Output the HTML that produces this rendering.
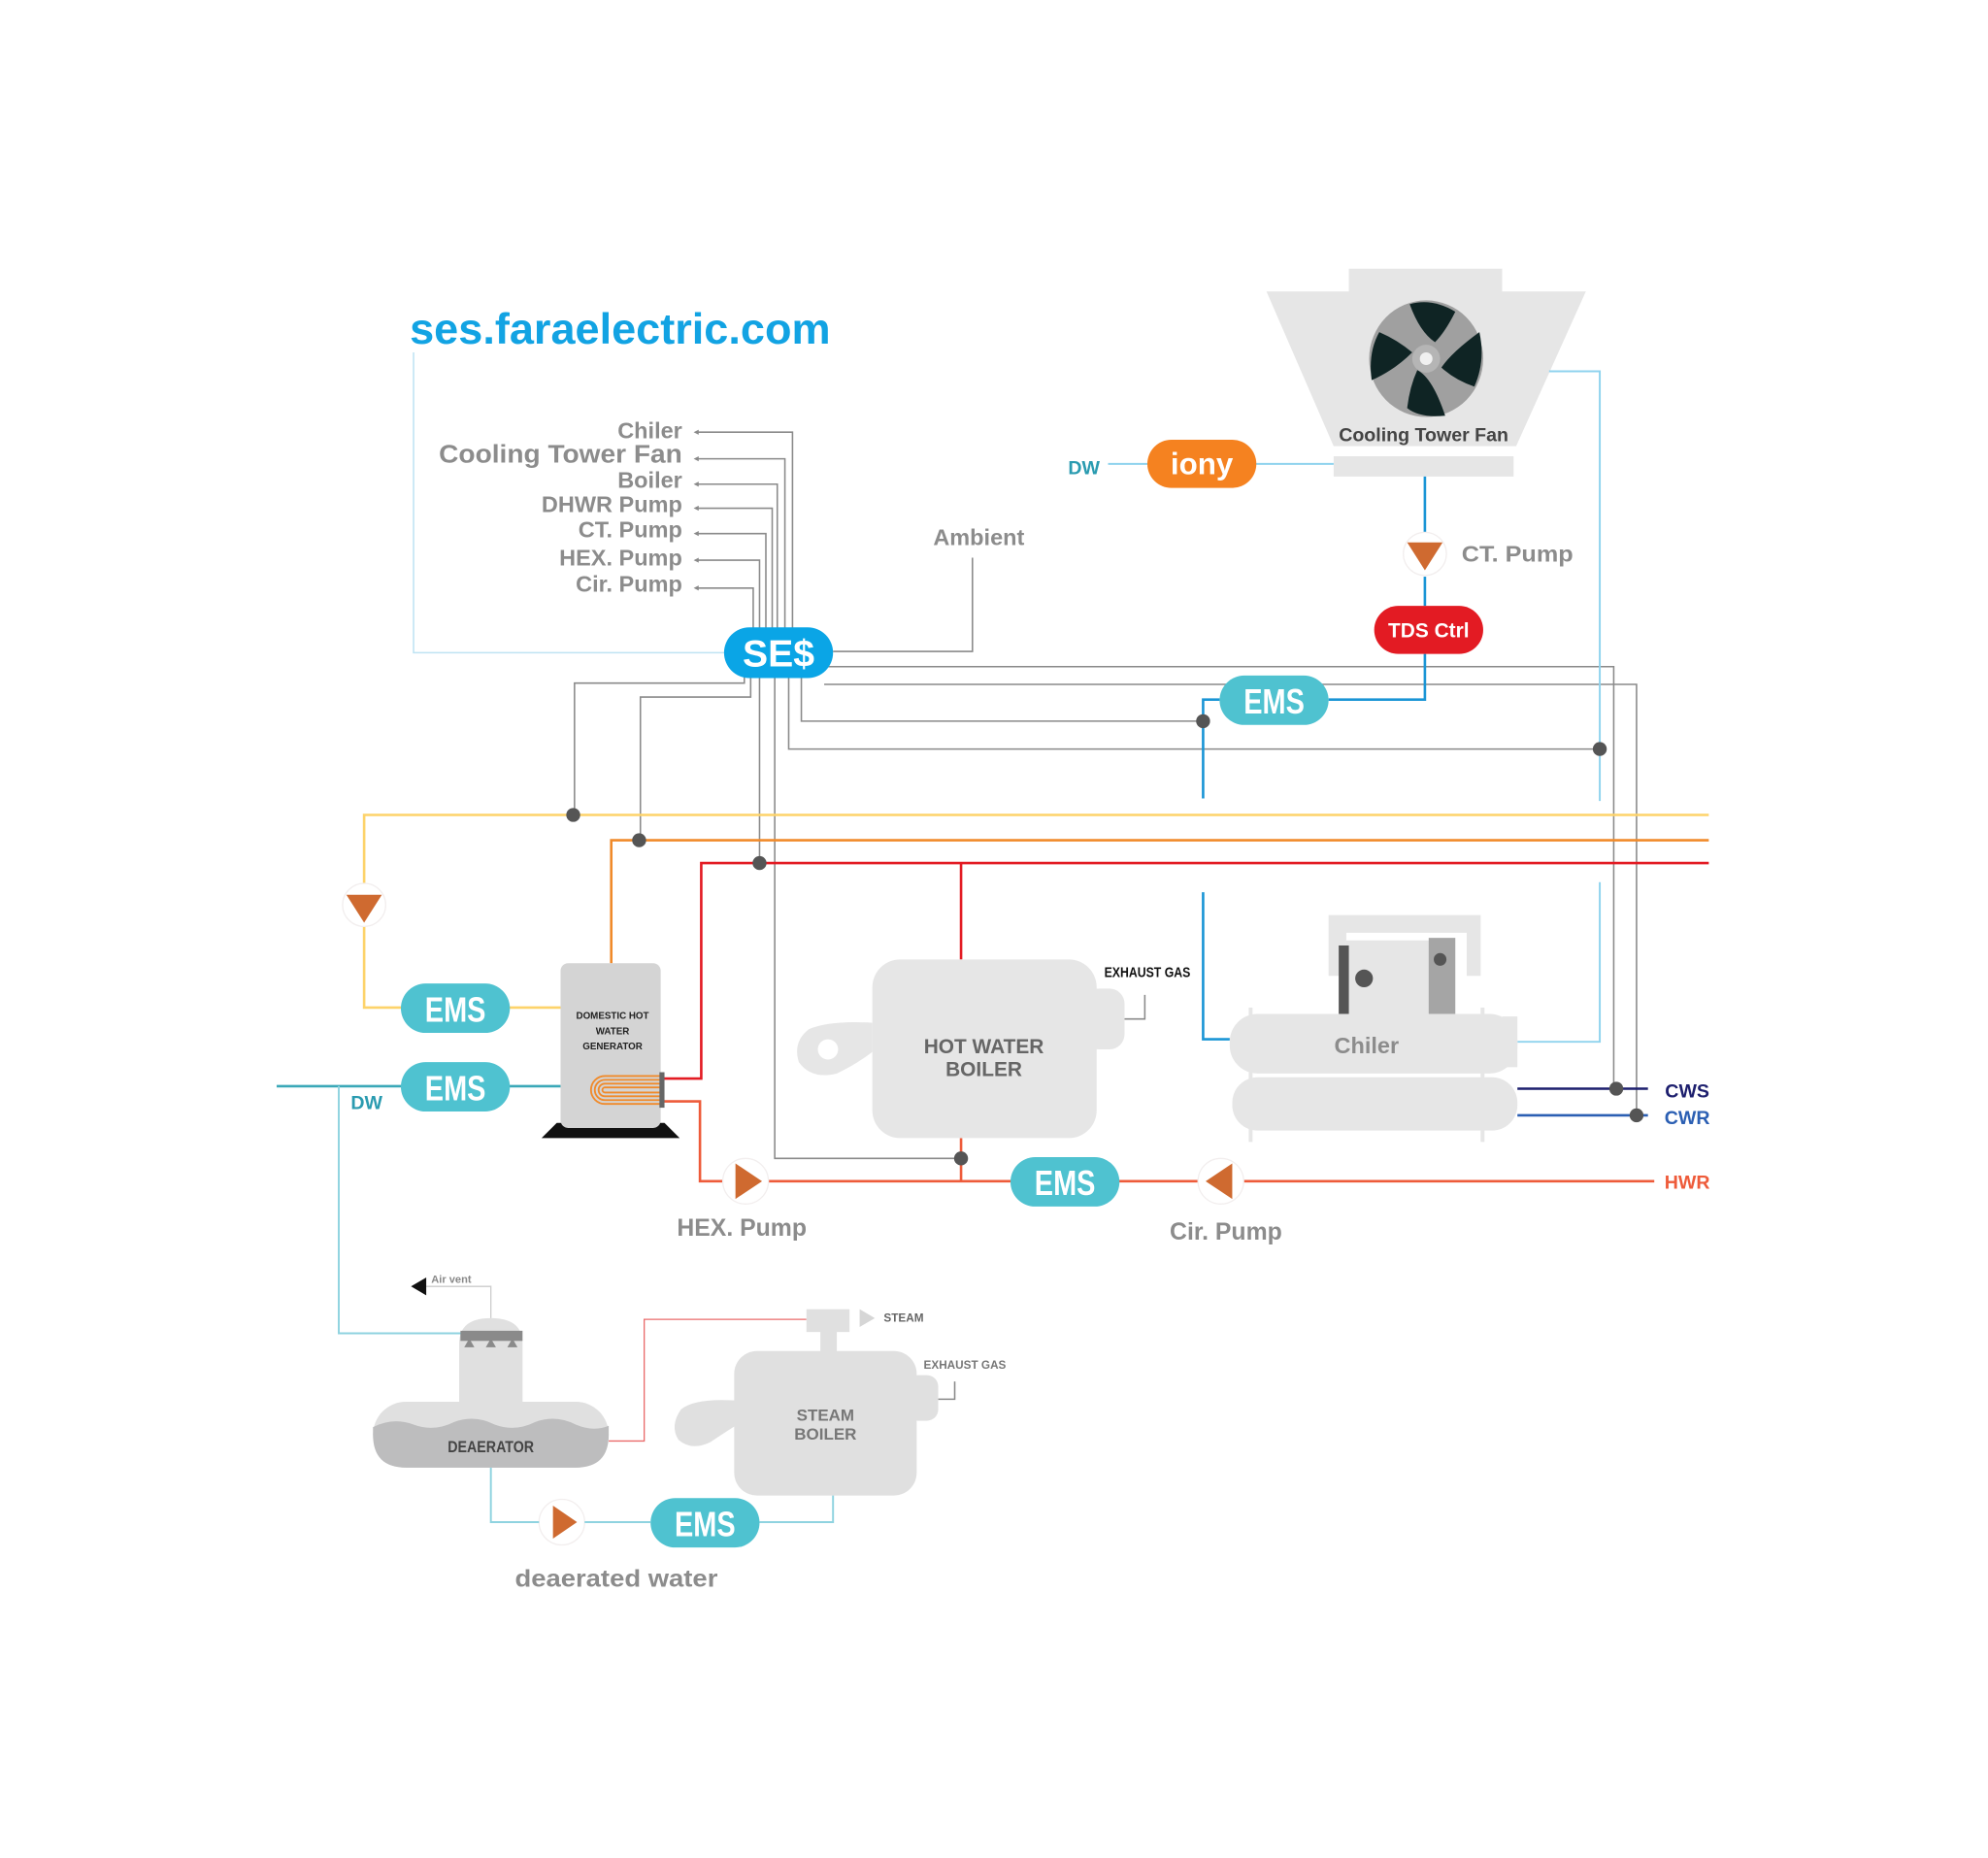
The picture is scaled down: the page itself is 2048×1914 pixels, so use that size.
<!DOCTYPE html>
<html><head><meta charset="utf-8"><style>
html,body{margin:0;padding:0;background:#fff}
svg{display:block}
text{font-family:"Liberation Sans",Arial,sans-serif;font-weight:bold}
</style></head><body>
<svg width="2048" height="1914" viewBox="0 0 1568 1466" xmlns="http://www.w3.org/2000/svg">
<rect width="1568" height="1466" fill="#fff"/>
<!-- title -->
<text x="323" y="271" font-size="34" fill="#12a3e3" textLength="332" lengthAdjust="spacingAndGlyphs">ses.faraelectric.com</text>
<polyline points="326,278 326,515 575,515" fill="none" stroke="#bfe3f3" stroke-width="1.2"/>
<!-- labels -->
<g font-size="18" fill="#8c8c8c" text-anchor="end">
<text x="538" y="346">Chiler</text>
<text x="538" y="365" font-size="20" textLength="192" lengthAdjust="spacingAndGlyphs">Cooling Tower Fan</text>
<text x="538" y="385">Boiler</text>
<text x="538" y="404">DHWR Pump</text>
<text x="538" y="424">CT. Pump</text>
<text x="538" y="446">HEX. Pump</text>
<text x="538" y="467">Cir. Pump</text>
</g>
<g fill="none" stroke="#8a8a8a" stroke-width="1.2">
<polyline points="550,341 625,341 625,500"/>
<polyline points="550,362 619,362 619,500"/>
<polyline points="550,382 613,382 613,500"/>
<polyline points="550,401 609,401 609,500"/>
<polyline points="550,421 604,421 604,500"/>
<polyline points="550,442 599,442 599,500"/>
<polyline points="550,464 594,464 594,500"/>
<polyline points="767,440 767,514 657,514"/>
<polyline points="650,526 1273,526 1273,859"/>
<polyline points="650,540 1291,540 1291,880"/>
<polyline points="632,530 632,569 949,569"/>
<polyline points="622,530 622,591 1262,591"/>
<polyline points="587,530 587,539 453,539 453,643"/>
<polyline points="592,530 592,550 505,550 505,663"/>
<polyline points="599,530 599,681"/>
<polyline points="611,530 611,914 758,914"/>
<polyline points="887,804 903,804 903,785"/>
<polyline points="740,1104 753,1104 753,1090"/>
</g>
<g fill="#8a8a8a">
<path d="M547,341 l4,-2 v4z"/><path d="M547,362 l4,-2 v4z"/><path d="M547,382 l4,-2 v4z"/><path d="M547,401 l4,-2 v4z"/><path d="M547,421 l4,-2 v4z"/><path d="M547,442 l4,-2 v4z"/><path d="M547,464 l4,-2 v4z"/>
</g>
<text x="772" y="430" font-size="18" fill="#8c8c8c" text-anchor="middle">Ambient</text>
<!-- cooling tower -->
<rect x="1064" y="212" width="121" height="20" fill="#e6e6e6"/>
<polygon points="999,230 1251,230 1196,352 1052,352" fill="#e6e6e6"/>
<rect x="1052" y="360" width="142" height="16" fill="#e6e6e6"/>
<ellipse cx="1125" cy="283" rx="45" ry="46" fill="#a0a0a0"/>
<g fill="#0f2424">
<path d="M1112,240 Q1130,235 1148,246 Q1140,262 1132,270 Q1120,262 1112,240z"/>
<path d="M1167,262 Q1172,285 1163,305 Q1148,300 1137,290 Q1145,278 1167,262z"/>
<path d="M1140,328 Q1120,330 1110,322 Q1112,305 1118,292 Q1130,298 1140,328z"/>
<path d="M1082,300 Q1079,278 1088,262 Q1102,268 1114,278 Q1100,292 1082,300z"/>
</g>
<circle cx="1125" cy="283" r="11" fill="#b5b5b5"/><circle cx="1125" cy="283" r="5" fill="#f0f0f0"/>
<text x="1123" y="348" font-size="15" fill="#444" text-anchor="middle">Cooling Tower Fan</text>
<polyline points="1222,293 1262,293 1262,632" fill="none" stroke="#8fd3ee" stroke-width="1.5"/>
<polyline points="1262,696 1262,822 1197,822" fill="none" stroke="#8fd3ee" stroke-width="1.5"/>
<line x1="874" y1="366" x2="905" y2="366" stroke="#8fd3ee" stroke-width="1.5"/>
<line x1="990" y1="366" x2="1052" y2="366" stroke="#8fd3ee" stroke-width="1.5"/>
<text x="855" y="374" font-size="15" fill="#2a9bb0" text-anchor="middle">DW</text>
<rect x="905" y="347" width="86" height="38" rx="19" fill="#f58220"/>
<text x="948" y="374" font-size="24" fill="#fff" text-anchor="middle" font-family="Liberation Sans">iony</text>
<!-- CT pump chain -->
<g fill="none" stroke="#1a95d5" stroke-width="2">
<line x1="1124" y1="376" x2="1124" y2="420"/>
<line x1="1124" y1="455" x2="1124" y2="478"/>
<polyline points="1124,516 1124,552 1048,552"/>
<polyline points="962,552 949,552 949,630"/>
<polyline points="949,704 949,820 970,820"/>
</g>
<circle cx="1124" cy="437" r="17" fill="#fff" stroke="#f2eeee"/>
<polygon points="1110,428 1138,428 1124,450" fill="#cf6a30"/>
<text x="1153" y="443" font-size="18" fill="#8c8c8c" textLength="88" lengthAdjust="spacingAndGlyphs">CT. Pump</text>
<rect x="1084" y="478" width="86" height="38" rx="19" fill="#e31b23"/>
<text x="1127" y="503" font-size="16" fill="#fff" text-anchor="middle">TDS Ctrl</text>
<!-- pipes -->
<polyline points="1348,643 287,643 287,697" fill="none" stroke="#fdd36a" stroke-width="2"/>
<polyline points="287,731 287,795 442,795" fill="none" stroke="#fdd36a" stroke-width="2"/>
<polyline points="1348,663 482,663 482,760" fill="none" stroke="#f08a2a" stroke-width="2"/>
<polyline points="1348,681 553,681 553,851 523,851" fill="none" stroke="#e31b23" stroke-width="2"/>
<line x1="758" y1="681" x2="758" y2="757" stroke="#e31b23" stroke-width="2"/>
<polyline points="523,869 552,869 552,932 1305,932" fill="none" stroke="#ee5b3a" stroke-width="2"/>
<line x1="758" y1="898" x2="758" y2="932" stroke="#ee5b3a" stroke-width="2"/>
<line x1="218" y1="857" x2="442" y2="857" stroke="#3aa8b8" stroke-width="2"/>
<polyline points="267,857 267,1052 380,1052" fill="none" stroke="#8fd3e0" stroke-width="1.5"/>
<!-- dots -->
<g fill="#555">
<circle cx="452" cy="643" r="5.5"/><circle cx="504" cy="663" r="5.5"/><circle cx="599" cy="681" r="5.5"/>
<circle cx="949" cy="569" r="5.5"/><circle cx="1262" cy="591" r="5.5"/><circle cx="758" cy="914" r="5.5"/>
</g>
<!-- SES -->
<rect x="571" y="495" width="86" height="40" rx="20" fill="#0aa5e6"/>
<text x="614" y="526" font-size="30" fill="#fff" text-anchor="middle">SE$</text>
<!-- EMS pills -->
<g font-size="28" fill="#fff" text-anchor="middle">
<rect x="962" y="533" width="86" height="39" rx="19.5" fill="#4fc2d0"/><text x="1005" y="563" textLength="48" lengthAdjust="spacingAndGlyphs">EMS</text>
<rect x="316" y="776" width="86" height="39" rx="19.5" fill="#4fc2d0"/><text x="359" y="806" textLength="48" lengthAdjust="spacingAndGlyphs">EMS</text>
<rect x="316" y="838" width="86" height="39" rx="19.5" fill="#4fc2d0"/><text x="359" y="868" textLength="48" lengthAdjust="spacingAndGlyphs">EMS</text>
<rect x="797" y="913" width="86" height="39" rx="19.5" fill="#4fc2d0"/><text x="840" y="943" textLength="48" lengthAdjust="spacingAndGlyphs">EMS</text>
<rect x="513" y="1182" width="86" height="39" rx="19.5" fill="#4fc2d0"/><text x="556" y="1212" textLength="48" lengthAdjust="spacingAndGlyphs">EMS</text>
</g>
<text x="289" y="875" font-size="15" fill="#2a9bb0" text-anchor="middle">DW</text>
<!-- pumps -->
<circle cx="287" cy="714" r="17" fill="#fff" stroke="#f2eeee"/><polygon points="273,706 301,706 287,728" fill="#cf6a30"/>
<circle cx="588" cy="932" r="18" fill="#fff" stroke="#f2eeee"/><polygon points="580,918 601,932 580,946" fill="#cf6a30"/>
<circle cx="963" cy="932" r="18" fill="#fff" stroke="#f2eeee"/><polygon points="972,918 951,932 972,946" fill="#cf6a30"/>
<circle cx="443" cy="1201" r="18" fill="#fff" stroke="#f2eeee"/><polygon points="436,1188 455,1201 436,1214" fill="#cf6a30"/>
<text x="585" y="975" font-size="19" fill="#8c8c8c" text-anchor="middle">HEX. Pump</text>
<text x="967" y="978" font-size="19" fill="#8c8c8c" text-anchor="middle">Cir. Pump</text>
<text x="1331" y="938" font-size="15" fill="#ee5b3a" text-anchor="middle">HWR</text>
<!-- DHW generator -->
<polygon points="427,898 536,898 524,886 439,886" fill="#111"/>
<rect x="442" y="760" width="79" height="130" rx="6" fill="#d4d4d4"/>
<g font-size="7.5" fill="#222" text-anchor="middle"><text x="483" y="804">DOMESTIC HOT</text><text x="483" y="816">WATER</text><text x="483" y="828">GENERATOR</text></g>
<g fill="none" stroke="#f08a2a" stroke-width="1.4">
<path d="M521,849 H477 a11,11 0 0 0 0,22 H521"/><path d="M521,852 H477 a8,8 0 0 0 0,16 H521"/><path d="M521,855 H477 a5,5 0 0 0 0,10 H521"/><path d="M521,858 H477 a2,2 0 0 0 0,4 H521"/>
</g>
<rect x="520" y="846" width="4" height="28" fill="#666"/>
<!-- hot water boiler -->
<path d="M688,807 Q655,805 638,812 Q625,822 630,838 Q640,852 660,847 Q675,840 688,830z" fill="#e6e6e6"/>
<circle cx="653" cy="828" r="8" fill="#fff"/>
<rect x="688" y="757" width="177" height="141" rx="22" fill="#e6e6e6"/>
<rect x="855" y="780" width="32" height="48" rx="12" fill="#e6e6e6"/>
<g font-size="16" fill="#666" text-anchor="middle"><text x="776" y="831">HOT WATER</text><text x="776" y="849">BOILER</text></g>
<text x="905" y="771" font-size="11" fill="#111" text-anchor="middle" textLength="68" lengthAdjust="spacingAndGlyphs">EXHAUST GAS</text>
<!-- chiller -->
<path d="M1048,722 H1168 V770 H1157 V736 H1062 V770 H1048z" fill="#e6e6e6"/>
<rect x="1062" y="742" width="76" height="58" fill="#e6e6e6"/>
<rect x="1056" y="746" width="8" height="54" fill="#555"/>
<circle cx="1076" cy="772" r="7" fill="#555"/>
<rect x="1127" y="740" width="21" height="60" fill="#a5a5a5"/>
<circle cx="1136" cy="757" r="5" fill="#555"/>
<rect x="970" y="800" width="227" height="47" rx="22" fill="#e6e6e6"/>
<rect x="1185" y="802" width="12" height="40" fill="#e6e6e6"/>
<rect x="972" y="850" width="225" height="42" rx="20" fill="#e6e6e6"/>
<rect x="985" y="795" width="3" height="106" fill="#e6e6e6"/><rect x="1168" y="795" width="3" height="106" fill="#e6e6e6"/>
<text x="1078" y="831" font-size="18" fill="#8c8c8c" text-anchor="middle">Chiler</text>
<line x1="1197" y1="859" x2="1300" y2="859" stroke="#1d1f6e" stroke-width="2"/>
<line x1="1197" y1="880" x2="1300" y2="880" stroke="#2b5fb3" stroke-width="2"/>
<circle cx="1275" cy="859" r="5.5" fill="#555"/><circle cx="1291" cy="880" r="5.5" fill="#555"/>
<text x="1331" y="866" font-size="15" fill="#1d1f6e" text-anchor="middle">CWS</text>
<text x="1331" y="887" font-size="15" fill="#2b5fb3" text-anchor="middle">CWR</text>
<!-- deaerator -->
<polyline points="336,1015 387,1015 387,1040" fill="none" stroke="#ccc" stroke-width="1"/>
<polygon points="324,1015 336,1008 336,1022" fill="#111"/>
<text x="340" y="1012" font-size="8.5" fill="#888" font-weight="normal">Air vent</text>
<path d="M362,1108 V1060 Q362,1040 387,1040 Q412,1040 412,1060 V1108z" fill="#e0e0e0"/>
<rect x="363" y="1050" width="49" height="8" fill="#8a8a8a"/>
<g fill="#8a8a8a"><polygon points="366,1063 374,1063 370,1056"/><polygon points="383,1063 391,1063 387,1056"/><polygon points="400,1063 408,1063 404,1056"/></g>
<rect x="294" y="1106" width="186" height="52" rx="26" fill="#e0e0e0"/>
<path d="M294,1126 Q310,1118 326,1124 Q342,1130 358,1122 Q374,1116 390,1124 Q406,1130 422,1122 Q438,1116 454,1124 Q468,1130 480,1125 V1132 Q480,1158 454,1158 H320 Q294,1158 294,1132z" fill="#bdbdbe"/>
<text x="387" y="1146" font-size="13" fill="#444" text-anchor="middle" textLength="68" lengthAdjust="spacingAndGlyphs">DEAERATOR</text>
<polyline points="480,1137 508,1137 508,1041 636,1041" fill="none" stroke="#ea6a6a" stroke-width="1"/>
<!-- steam boiler -->
<rect x="636" y="1033" width="34" height="18" fill="#e0e0e0"/>
<rect x="647" y="1050" width="13" height="20" fill="#e0e0e0"/>
<polygon points="678,1033 690,1040 678,1047" fill="#d6d6d6"/>
<text x="697" y="1043" font-size="9" fill="#666">STEAM</text>
<path d="M580,1105 Q548,1103 537,1112 Q528,1125 535,1136 Q545,1145 560,1138 Q572,1130 580,1125z" fill="#e0e0e0"/>
<rect x="579" y="1066" width="144" height="114" rx="18" fill="#e0e0e0"/>
<rect x="715" y="1085" width="25" height="36" rx="9" fill="#e0e0e0"/>
<g font-size="13" fill="#777" text-anchor="middle"><text x="651" y="1121">STEAM</text><text x="651" y="1136">BOILER</text></g>
<text x="761" y="1080" font-size="9" fill="#777" text-anchor="middle">EXHAUST GAS</text>
<g fill="none" stroke="#8fd3e0" stroke-width="1.5">
<polyline points="387,1158 387,1201 425,1201"/><line x1="461" y1="1201" x2="513" y2="1201"/><polyline points="599,1201 657,1201 657,1180"/>
</g>
<text x="486" y="1252" font-size="19" fill="#8c8c8c" text-anchor="middle" textLength="160" lengthAdjust="spacingAndGlyphs">deaerated water</text>
</svg>
</body></html>
